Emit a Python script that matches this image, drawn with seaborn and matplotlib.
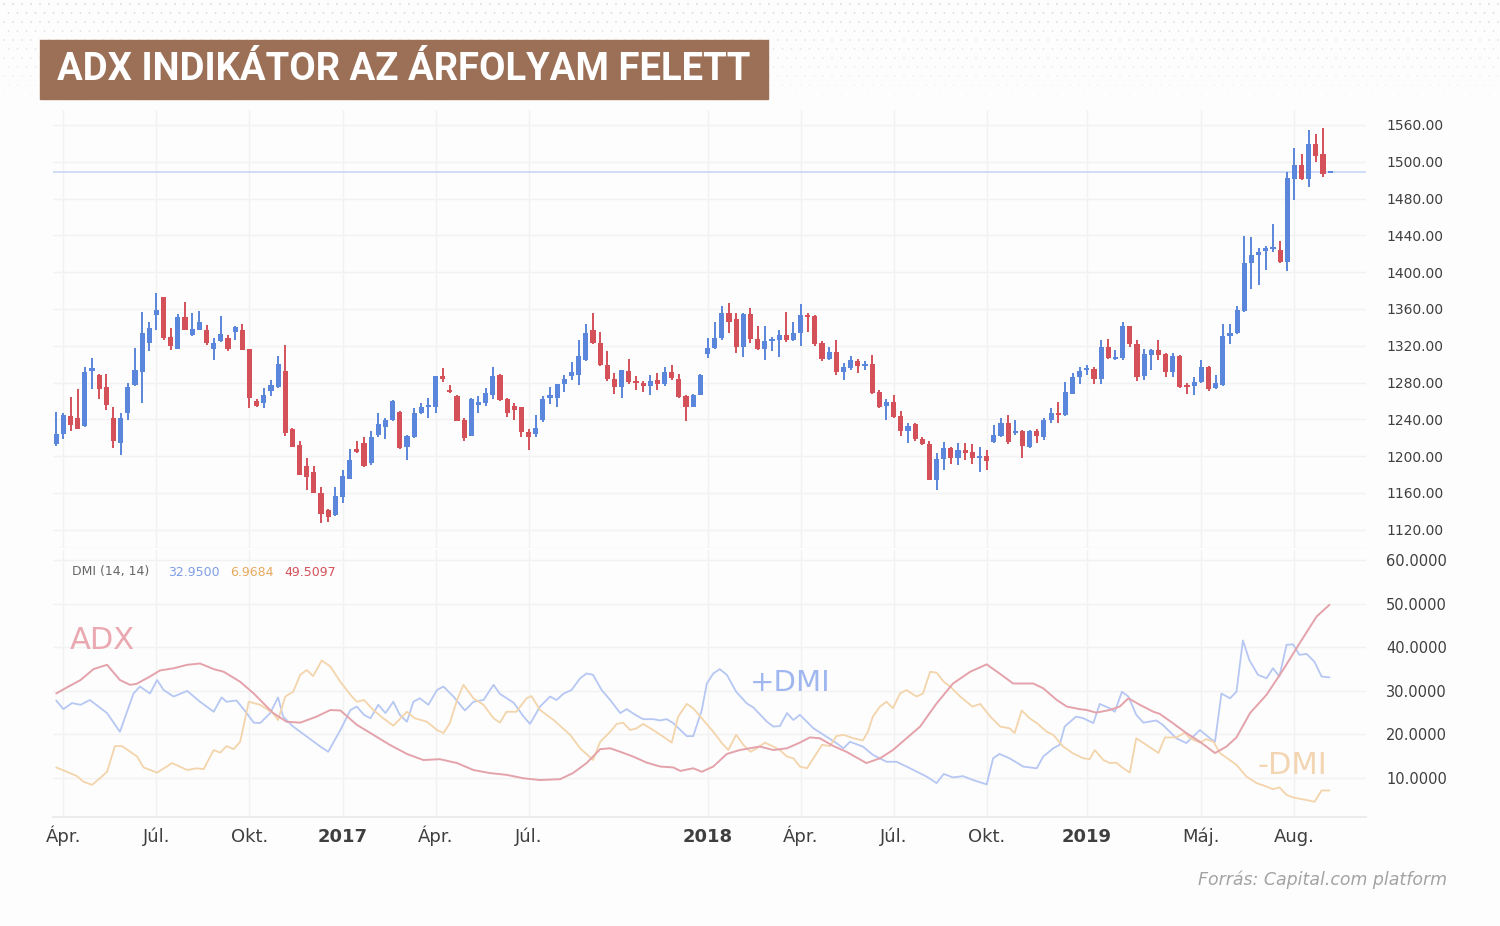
import matplotlib
matplotlib.use("Agg")
import matplotlib.pyplot as plt
import matplotlib.patches as patches
import seaborn as sns
import pandas as pd
import numpy as np

# weekly candles (open, high, low, close)
opens = [1213, 1224, 1244, 1241, 1233, 1293, 1288, 1275, 1242, 1214, 1247, 1277, 1291, 1323, 1354, 1373, 1330, 1317, 1351, 1332,
         1337, 1337, 1316, 1325, 1329, 1335, 1337, 1316, 1260, 1258, 1271, 1275, 1293, 1230, 1212, 1189, 1183, 1160, 1142, 1136,
         1156, 1175, 1208, 1214, 1193, 1223, 1232, 1239, 1248, 1210, 1221, 1247, 1254, 1253, 1287, 1271, 1265, 1239, 1222, 1256,
         1258, 1267, 1288, 1262, 1255, 1253, 1226, 1224, 1239, 1263, 1263, 1279, 1287, 1288, 1305, 1337, 1323, 1299, 1284, 1275,
         1293, 1282, 1280, 1276, 1283, 1279, 1291, 1284, 1265, 1253, 1267, 1311, 1318, 1328, 1356, 1349, 1319, 1355, 1327, 1317,
         1325, 1326, 1332, 1326, 1334, 1354, 1352, 1323, 1306, 1313, 1292, 1296, 1304, 1298, 1300, 1270, 1255, 1259, 1244, 1227,
         1235, 1219, 1213, 1174, 1197, 1209, 1198, 1207, 1205, 1198, 1200, 1215, 1222, 1236, 1225, 1227, 1210, 1227, 1221, 1239,
         1247, 1245, 1268, 1286, 1294, 1295, 1284, 1319, 1306, 1307, 1342, 1322, 1287, 1310, 1315, 1311, 1292, 1309, 1276, 1276,
         1281, 1297, 1274, 1277, 1331, 1334, 1358, 1410, 1419, 1423, 1425, 1424, 1411, 1501, 1517, 1501, 1539, 1528, 1508]
highs = [1248, 1247, 1264, 1273, 1297, 1307, 1289, 1289, 1254, 1247, 1280, 1318, 1357, 1346, 1377, 1373, 1339, 1355, 1368, 1356,
         1358, 1343, 1328, 1352, 1332, 1341, 1344, 1316, 1262, 1274, 1283, 1309, 1321, 1231, 1216, 1198, 1189, 1167, 1143, 1167,
         1185, 1208, 1216, 1221, 1227, 1247, 1242, 1261, 1249, 1223, 1252, 1258, 1263, 1287, 1296, 1277, 1267, 1242, 1263, 1265,
         1274, 1297, 1289, 1263, 1258, 1254, 1230, 1245, 1265, 1275, 1279, 1288, 1302, 1326, 1344, 1356, 1335, 1314, 1290, 1294,
         1306, 1287, 1282, 1288, 1290, 1297, 1299, 1289, 1266, 1268, 1289, 1328, 1346, 1363, 1366, 1356, 1356, 1361, 1341, 1341,
         1330, 1337, 1357, 1346, 1365, 1356, 1354, 1325, 1319, 1326, 1301, 1309, 1306, 1304, 1310, 1272, 1262, 1267, 1249, 1236,
         1236, 1221, 1216, 1203, 1215, 1210, 1214, 1214, 1213, 1210, 1207, 1234, 1241, 1245, 1239, 1229, 1229, 1230, 1241, 1252,
         1259, 1281, 1290, 1297, 1299, 1297, 1326, 1327, 1315, 1346, 1342, 1326, 1317, 1317, 1326, 1312, 1312, 1310, 1280, 1286,
         1305, 1298, 1288, 1344, 1344, 1363, 1439, 1438, 1426, 1428, 1452, 1434, 1509, 1535, 1528, 1555, 1550, 1557, 1510]
lows = [1211, 1219, 1227, 1230, 1232, 1273, 1262, 1250, 1209, 1201, 1239, 1276, 1258, 1314, 1337, 1326, 1315, 1317, 1337, 1331,
        1337, 1321, 1305, 1324, 1314, 1326, 1315, 1252, 1254, 1252, 1265, 1274, 1222, 1210, 1180, 1163, 1160, 1127, 1129, 1135,
        1149, 1175, 1203, 1188, 1190, 1221, 1219, 1238, 1208, 1196, 1220, 1246, 1241, 1247, 1281, 1269, 1238, 1216, 1222, 1247,
        1255, 1262, 1260, 1243, 1239, 1221, 1207, 1221, 1237, 1257, 1254, 1270, 1283, 1277, 1304, 1322, 1298, 1282, 1268, 1263,
        1279, 1272, 1270, 1267, 1272, 1276, 1283, 1263, 1238, 1253, 1266, 1307, 1317, 1326, 1334, 1312, 1308, 1323, 1315, 1305,
        1314, 1308, 1324, 1325, 1320, 1335, 1320, 1304, 1305, 1288, 1283, 1294, 1290, 1294, 1268, 1252, 1239, 1242, 1222, 1214,
        1217, 1212, 1174, 1163, 1185, 1192, 1190, 1196, 1192, 1183, 1185, 1214, 1221, 1213, 1223, 1198, 1209, 1214, 1218, 1236,
        1236, 1244, 1268, 1279, 1288, 1279, 1279, 1306, 1305, 1305, 1319, 1282, 1283, 1294, 1305, 1286, 1286, 1274, 1268, 1267,
        1280, 1271, 1273, 1276, 1322, 1333, 1357, 1382, 1386, 1402, 1422, 1410, 1401, 1479, 1500, 1493, 1520, 1504, 1508]
closes = [1224, 1245, 1234, 1230, 1291, 1296, 1273, 1256, 1216, 1242, 1275, 1294, 1334, 1339, 1359, 1328, 1320, 1351, 1337, 1338,
          1346, 1323, 1323, 1333, 1317, 1340, 1315, 1263, 1255, 1267, 1277, 1300, 1225, 1210, 1180, 1177, 1160, 1137, 1134, 1157,
          1178, 1196, 1205, 1189, 1221, 1235, 1239, 1260, 1209, 1222, 1247, 1253, 1256, 1287, 1284, 1270, 1238, 1220, 1262, 1259,
          1269, 1287, 1261, 1247, 1250, 1226, 1221, 1231, 1262, 1267, 1278, 1284, 1291, 1309, 1334, 1323, 1299, 1284, 1275, 1294,
          1281, 1280, 1276, 1282, 1279, 1291, 1285, 1264, 1254, 1267, 1288, 1318, 1329, 1356, 1346, 1319, 1355, 1327, 1317, 1325,
          1326, 1332, 1326, 1334, 1354, 1351, 1322, 1306, 1313, 1291, 1297, 1305, 1298, 1300, 1269, 1253, 1259, 1243, 1227, 1233,
          1219, 1213, 1174, 1197, 1209, 1198, 1207, 1203, 1198, 1199, 1195, 1223, 1236, 1215, 1227, 1211, 1227, 1222, 1239, 1247,
          1245, 1270, 1286, 1293, 1296, 1284, 1319, 1307, 1307, 1342, 1322, 1286, 1311, 1315, 1310, 1292, 1309, 1275, 1275, 1281,
          1297, 1273, 1280, 1331, 1334, 1359, 1410, 1419, 1422, 1426, 1427, 1411, 1502, 1517, 1501, 1539, 1526, 1507, 1509]

# DMI (14, 14) lines, x = candle index
adx_x = [0, 1.5, 3.4, 5.2, 7.1, 8.9, 10.3, 11.2, 13.1, 14.5, 16.4, 18.3, 20.1, 22.0, 23.4, 25.7, 27.6, 30.3, 32.2, 34.1,
         36.4, 38.3, 39.7, 42.0, 44.3, 46.6, 49.0, 51.3, 53.6, 56.0, 58.3, 60.6, 62.9, 65.3, 67.6, 70.4, 72.2, 74.1, 76.0, 77.4,
         78.8, 80.6, 82.5, 84.4, 86.2, 87.2, 89.0, 90.2, 91.8, 93.7, 95.5, 98.3, 100.2, 102.1, 103.9, 105.3, 106.7, 108.6, 110.4, 113.2,
         115.1, 116.9, 118.8, 120.7, 123.0, 125.3, 127.7, 130.0, 131.8, 133.7, 136.5, 137.9, 139.8, 141.2, 143.0, 144.0, 145.3, 147.2, 148.6, 149.8,
         151.4, 153.3, 154.2, 156.0, 157.9, 159.8, 161.9, 163.5, 164.9, 166.8, 169.1, 171.4, 173.7, 176.1, 177.9]
adx_y = [29.4, 30.8, 32.5, 35.0, 36.0, 32.5, 31.4, 31.6, 33.3, 34.7, 35.2, 36.0, 36.3, 35.0, 34.4, 32.1, 29.4, 24.9, 22.9, 22.7,
         24.1, 25.6, 25.5, 22.2, 19.9, 17.6, 15.5, 14.1, 14.3, 13.4, 11.8, 11.1, 10.7, 9.9, 9.5, 9.7, 11.1, 13.4, 16.6, 16.8,
         16.0, 14.9, 13.5, 12.6, 12.4, 11.6, 12.2, 11.4, 12.6, 15.5, 16.4, 17.2, 16.4, 16.8, 18.1, 19.3, 19.1, 17.3, 16.0, 13.4,
         14.5, 16.4, 19.1, 21.8, 27.1, 31.7, 34.4, 36.1, 34.0, 31.7, 31.7, 30.6, 27.9, 26.4, 25.8, 25.6, 25.0, 25.6, 26.4, 28.3,
         26.8, 25.2, 24.7, 22.6, 20.3, 18.3, 15.7, 17.2, 19.3, 24.9, 29.1, 34.8, 40.9, 47.1, 49.8]
pdi_x = [0, 1.0, 2.2, 3.4, 4.7, 7.1, 8.9, 10.8, 11.7, 13.1, 14.1, 15.0, 16.4, 18.3, 20.1, 22.0, 23.1, 23.8, 25.2, 26.6,
         27.6, 28.5, 29.9, 31.0, 31.7, 33.1, 35.0, 36.9, 38.0, 39.7, 41.1, 42.0, 43.0, 43.9, 45.0, 46.0, 47.1, 48.0, 49.0, 49.9,
         50.8, 52.0, 53.2, 54.1, 55.5, 57.1, 58.3, 59.7, 61.1, 62.0, 63.9, 65.3, 66.2, 67.6, 69.0, 69.9, 70.9, 72.0, 73.2, 74.1,
         75.0, 76.2, 77.4, 78.8, 79.7, 80.9, 82.0, 83.4, 84.4, 85.3, 86.2, 88.1, 89.0, 90.2, 90.9, 91.8, 92.7, 93.7, 95.0, 96.5,
         97.4, 99.3, 100.2, 101.1, 102.1, 103.0, 103.9, 105.8, 107.6, 109.0, 110.0, 110.9, 112.7, 114.1, 116.0, 117.4, 119.3, 121.6, 123.0, 124.0,
         125.3, 126.7, 128.1, 130.0, 130.9, 131.8, 133.2, 135.1, 137.0, 137.9, 139.3, 140.2, 140.9, 142.5, 143.5, 144.9, 145.8, 147.2, 147.9, 148.9,
         149.8, 150.9, 151.9, 153.7, 154.6, 156.5, 157.9, 159.8, 161.2, 161.9, 162.8, 164.0, 164.9, 165.8, 166.7, 167.9, 169.1, 170.0, 170.9, 171.9,
         172.8, 173.7, 174.7, 175.8, 176.8, 177.9]
pdi_y = [27.8, 25.8, 27.2, 26.8, 27.9, 24.9, 20.6, 29.4, 31.0, 29.4, 32.5, 30.2, 28.7, 30.0, 27.5, 25.2, 28.5, 27.5, 27.8, 24.9,
         22.7, 22.6, 24.9, 28.5, 24.1, 21.8, 19.5, 17.2, 16.0, 21.0, 25.6, 26.4, 24.5, 23.7, 26.8, 24.9, 27.5, 24.5, 22.9, 27.5,
         28.3, 26.8, 30.2, 31.0, 28.7, 25.5, 27.5, 27.9, 31.4, 29.3, 27.3, 24.1, 22.4, 26.4, 28.7, 27.9, 29.4, 30.2, 32.9, 34.0,
         33.7, 30.2, 27.9, 24.9, 25.8, 24.5, 23.5, 23.5, 23.2, 23.5, 22.6, 19.6, 19.6, 25.6, 31.7, 34.0, 35.0, 33.7, 29.8, 27.1,
         26.2, 22.9, 21.8, 21.9, 24.9, 23.3, 24.5, 21.4, 19.5, 18.0, 16.8, 18.3, 17.2, 15.3, 13.7, 13.7, 12.2, 10.3, 8.8, 10.9,
         10.1, 10.4, 9.5, 8.5, 14.5, 15.5, 14.5, 12.6, 12.2, 14.9, 16.8, 17.6, 21.8, 24.1, 23.7, 22.6, 27.0, 26.0, 25.2, 29.8,
         28.7, 24.5, 22.7, 23.2, 22.2, 19.1, 18.0, 21.0, 19.1, 18.3, 29.4, 28.3, 29.8, 41.6, 37.1, 33.7, 32.9, 35.2, 33.3, 40.6,
         40.7, 38.3, 38.5, 36.7, 33.3, 33.1]
mdi_x = [0, 1.5, 2.9, 3.8, 5.0, 6.1, 7.1, 8.2, 9.2, 11.3, 12.2, 14.1, 16.2, 18.3, 19.6, 20.6, 22.0, 22.9, 23.8, 24.8,
         25.7, 26.9, 28.5, 30.3, 31.0, 32.0, 33.1, 34.1, 35.0, 35.9, 37.1, 38.3, 39.7, 41.1, 42.0, 43.0, 44.3, 45.7, 47.1, 49.0,
         50.1, 51.8, 53.2, 54.1, 55.0, 56.0, 56.9, 58.3, 59.7, 61.1, 62.0, 62.9, 64.3, 65.7, 66.4, 67.6, 69.5, 71.8, 73.2, 75.0,
         76.0, 77.4, 78.3, 79.2, 80.2, 81.1, 82.0, 83.4, 84.8, 86.0, 86.9, 88.1, 89.0, 90.4, 91.8, 93.0, 93.9, 95.0, 96.0, 97.0,
         97.9, 99.0, 100.2, 101.1, 102.1, 103.0, 103.9, 104.9, 105.8, 107.0, 108.1, 109.0, 110.0, 111.4, 112.7, 113.4, 114.1, 115.1, 116.0, 116.9,
         117.9, 118.8, 120.2, 121.1, 122.1, 123.0, 124.0, 124.9, 126.3, 128.0, 129.1, 130.5, 131.9, 133.2, 133.9, 134.9, 136.0, 137.0, 138.4, 139.3,
         140.7, 142.1, 143.5, 144.4, 145.1, 146.3, 147.2, 148.1, 149.1, 150.0, 150.9, 152.3, 154.0, 154.9, 156.5, 157.7, 158.4, 159.8, 160.7, 161.7,
         162.6, 164.9, 166.3, 167.7, 169.1, 170.0, 170.9, 171.9, 172.8, 174.7, 175.8, 176.8, 177.9]
mdi_y = [12.4, 11.4, 10.4, 9.1, 8.4, 9.9, 11.4, 17.3, 17.3, 14.9, 12.4, 11.2, 13.4, 11.8, 12.2, 12.0, 16.4, 15.8, 17.3, 16.6,
         18.3, 27.5, 26.8, 24.9, 23.3, 28.7, 29.8, 33.7, 34.8, 33.4, 37.0, 35.6, 32.1, 29.1, 27.5, 27.9, 25.6, 23.7, 22.0, 25.2,
         23.7, 22.9, 21.0, 20.3, 22.6, 27.9, 31.4, 28.3, 26.8, 23.7, 22.7, 25.2, 25.2, 28.3, 28.8, 25.6, 23.3, 19.9, 16.8, 14.1,
         18.3, 20.6, 22.4, 22.7, 21.0, 21.4, 22.4, 21.0, 19.5, 18.1, 24.1, 27.0, 26.0, 23.3, 20.6, 18.0, 16.4, 19.9, 17.6, 16.0,
         16.8, 18.1, 17.2, 16.4, 14.9, 14.5, 12.6, 12.2, 14.5, 17.6, 17.3, 19.6, 19.9, 19.1, 18.6, 20.6, 24.1, 26.4, 27.5, 26.0,
         29.4, 30.2, 28.7, 29.4, 34.4, 34.2, 32.1, 31.0, 28.7, 26.4, 27.0, 24.1, 21.8, 21.4, 20.3, 25.5, 23.7, 22.6, 20.6, 19.9,
         17.2, 15.6, 14.5, 14.3, 16.4, 14.1, 13.4, 13.5, 12.2, 11.2, 19.1, 17.6, 15.7, 19.3, 19.3, 20.4, 19.1, 18.1, 18.9, 18.3,
         15.7, 13.0, 10.3, 8.8, 8.0, 7.4, 7.8, 6.1, 5.5, 4.9, 4.5, 7.1, 7.1]

month_pos = [1, 14, 27, 40, 53, 66, 91, 104, 117, 130, 144, 160, 173]
month_labels = ["Ápr.", "Júl.", "Okt.", "2017", "Ápr.", "Júl.", "2018", "Ápr.", "Júl.", "Okt.", "2019", "Máj.", "Aug."]
price_ticks = [1120, 1160, 1200, 1240, 1280, 1320, 1360, 1400, 1440, 1480, 1520, 1560]
price_labels = ["1120.00", "1160.00", "1200.00", "1240.00", "1280.00", "1320.00", "1360.00", "1400.00",
                "1440.00", "1480.00", "1500.00", "1560.00"]
dmi_ticks = [10, 20, 30, 40, 50, 60]
dmi_labels = ["10.0000", "20.0000", "30.0000", "40.0000", "50.0000", "60.0000"]
legend_values = ["32.9500", "6.9684", "49.5097"]

BLUE = "#5a86db"
RED = "#d4515a"
GRID = "#f2f2f2"
TXT = "#3f3f3f"

sns.set_theme(style="white")
plt.rcParams["font.family"] = ["DejaVu Sans"]

W, H = 1500, 926
fig = plt.figure(figsize=(W / 100, H / 100), dpi=100, facecolor="#fdfdfd")


def fx(x):
    return x / W


def fy(y):
    return 1 - y / H


# faint dotted texture in the header strip
bg = fig.add_axes([0, fy(112), 1, fy(0) - fy(112)], zorder=-5)
bg.set_xlim(0, W)
bg.set_ylim(112, 0)
bg.axis("off")
gx, gy = np.meshgrid(np.arange(4, W, 9), np.arange(4, 112, 9))
gx = gx + (gy // 9 % 2) * 4.5
fade = np.clip(1 - gy / 112, 0, 1).ravel()
bg.scatter(gx.ravel(), gy.ravel(), s=1.6, c=[(0.82, 0.82, 0.82, a * 0.9) for a in fade], lw=0)

ax = fig.add_axes([fx(53), fy(548), fx(1366) - fx(53), fy(110) - fy(548)])
ax2 = fig.add_axes([fx(53), fy(817), fx(1366) - fx(53), fy(550) - fy(817)], sharex=ax)
for a in (ax, ax2):
    a.set_facecolor("#fdfdfd")
    for s in a.spines.values():
        s.set_visible(False)

# candles
df = pd.DataFrame({"open": opens, "high": highs, "low": lows, "close": closes})
df["i"] = np.arange(len(df))
df["color"] = np.where(df["close"] >= df["open"], BLUE, RED)
body_low = df[["open", "close"]].min(axis=1)
body_h = (df["close"] - df["open"]).abs().clip(lower=2)
ax.vlines(df["i"], df["low"], df["high"], colors=df["color"], lw=1.4, zorder=3)
ax.bar(df["i"], body_h, bottom=body_low, width=0.72, color=df["color"], lw=0, zorder=4)
ax.axhline(closes[-1], color="#c3d4f2", lw=1.1, zorder=2)

ax.set_xlim(-0.45, 183)
ax.set_ylim(1100.2, 1576.3)
ax.set_yticks(price_ticks)
ax.set_yticklabels(price_labels)
ax.set_xticks(month_pos)
ax.grid(True, color=GRID, lw=1)
ax.tick_params(axis="x", bottom=False, labelbottom=False, length=0)
ax.tick_params(axis="y", left=False, right=False, labelleft=False, labelright=True, length=0,
               pad=14.5, labelsize=10, labelcolor=TXT)
ax.axhline(1100.2, color="#eeeeee", lw=1)

# DMI panel
sns.lineplot(x=pdi_x, y=pdi_y, ax=ax2, color="#b5c7f2", lw=1.3, estimator=None, sort=False)
sns.lineplot(x=mdi_x, y=mdi_y, ax=ax2, color="#f3d4ab", lw=1.3, estimator=None, sort=False)
sns.lineplot(x=adx_x, y=adx_y, ax=ax2, color="#e4a2ab", lw=1.4, estimator=None, sort=False)
ax2.set_ylim(1.0, 62.4)
ax2.set_yticks(dmi_ticks)
ax2.set_yticklabels(dmi_labels)
ax2.set_xticks(month_pos)
ax2.set_xticklabels(month_labels)
ax2.grid(True, color=GRID, lw=1)
ax2.tick_params(axis="y", left=False, right=False, labelleft=False, labelright=True, length=0,
                pad=14.5, labelsize=10.5, labelcolor=TXT)
ax2.tick_params(axis="x", bottom=False, length=0, pad=18, labelsize=13, labelcolor=TXT)
for lab in ax2.get_xticklabels():
    lab.set_verticalalignment("baseline")
    if lab.get_text().isdigit():
        lab.set_fontweight("bold")
ax2.spines["bottom"].set_visible(True)
ax2.spines["bottom"].set_color("#eaeaea")
ax2.set_xlabel("")
ax2.set_ylabel("")

ax2.text(1.96, 41.5, "ADX", color="#eaa9b1", fontsize=22, va="center", ha="left")
ax2.text(96.9, 31.8, "+DMI", color="#a0b6ef", fontsize=21, va="center", ha="left")
ax2.text(167.9, 12.8, "-DMI", color="#f3d5b2", fontsize=22, va="center", ha="left")

# legend row
fig.text(fx(72), fy(572), "DMI (14, 14)", color="#666666", fontsize=9, va="center")
fig.text(fx(168), fy(572), legend_values[0], color="#7f9ee6", fontsize=9, va="center")
fig.text(fx(230), fy(572), legend_values[1], color="#e7a95e", fontsize=9, va="center")
fig.text(fx(284), fy(572), legend_values[2], color="#d4515a", fontsize=9, va="center")

# title box
fig.patches.append(patches.Rectangle((fx(40), fy(99)), fx(768) - fx(40), fy(40) - fy(99),
                                     transform=fig.transFigure, color="#9c7056", zorder=0))
title = fig.text(fx(57), fy(70), "ADX INDIKÁTOR AZ ÁRFOLYAM FELETT", color="white",
                 fontsize=26, fontweight="bold", family=["Roboto", "DejaVu Sans"], va="center", ha="left")
fig.canvas.draw()
bb = title.get_window_extent()
title.set_fontsize(26 * 693 / bb.width)

fig.text(fx(1447), fy(880), "Forrás: Capital.com platform", color="#a3a3a3", fontsize=12.5,
         style="italic", ha="right", va="center")

fig.savefig("out.png", dpi=100, facecolor=fig.get_facecolor())
